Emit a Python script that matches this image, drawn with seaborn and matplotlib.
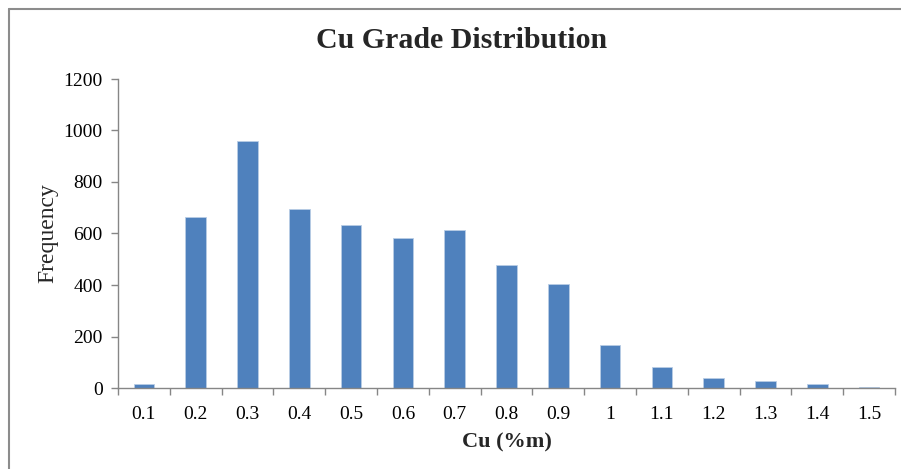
import matplotlib
matplotlib.use("Agg")
import matplotlib.pyplot as plt
import seaborn as sns
import pandas as pd
from matplotlib.lines import Line2D

categories = ["0.1", "0.2", "0.3", "0.4", "0.5", "0.6", "0.7", "0.8", "0.9",
              "1", "1.1", "1.2", "1.3", "1.4", "1.5"]
frequency = [15, 664, 960, 697, 634, 584, 612, 476, 404, 168, 81, 39, 27, 16, 4]
y_ticks = [0, 200, 400, 600, 800, 1000, 1200]

sns.set_theme(style="white")
plt.rcParams['font.family'] = ['Liberation Serif', 'DejaVu Serif']

df = pd.DataFrame({"Cu": categories, "Frequency": frequency})

fig = plt.figure(figsize=(9.01, 4.69), dpi=100)
ax = fig.add_axes([118/901, 1-388/469, (895-118)/901, (388-79)/469])

sns.barplot(data=df, x="Cu", y="Frequency", ax=ax, color="#4F81BD",
            width=0.4, edgecolor="#B9CDE5", linewidth=0.6, saturation=1)

axis_col = "#868686"
ax.set_ylim(0, 1200)
ax.set_yticks(y_ticks)
ax.set_yticklabels([str(v) for v in y_ticks])
ax.set_xlim(-0.5, len(categories) - 0.5)
ax.set_xticks(range(len(categories)))
ax.set_xticklabels(categories)

for s in ["top", "right"]:
    ax.spines[s].set_visible(False)
for s in ["left", "bottom"]:
    ax.spines[s].set_color(axis_col)
    ax.spines[s].set_linewidth(1.0)

# tick marks at category boundaries
ax.set_xticks([i - 0.5 for i in range(len(categories) + 1)], minor=True)
ax.tick_params(axis="x", which="major", length=0, labelsize=14, pad=13, colors="black")
ax.tick_params(axis="x", which="minor", length=5, width=1, color=axis_col, direction="out")
ax.tick_params(axis="y", which="major", length=5, width=1, color=axis_col,
               direction="out", labelsize=14, pad=6, labelcolor="black")
ax.tick_params(left=True, bottom=False)
ax.xaxis.set_tick_params(which="minor", bottom=True)

ax.set_xlabel("Cu (%m)", fontsize=16, fontweight="bold", labelpad=7)
ax.set_ylabel("Frequency", fontsize=17, labelpad=4)
fig.text(462/901, 1-41/469, "Cu Grade Distribution", ha="center", va="center",
         fontsize=21.5, fontweight="bold")

# outer chart border (top and left visible)
fig.add_artist(Line2D([8.5/901, 1.0], [1-9.5/469, 1-9.5/469], color="#8c8c8c", lw=1.5,
                      transform=fig.transFigure))
fig.add_artist(Line2D([8.5/901, 8.5/901], [0, 1-9.5/469], color="#8c8c8c", lw=1.5,
                      transform=fig.transFigure))

fig.savefig("out.png", dpi=100)
